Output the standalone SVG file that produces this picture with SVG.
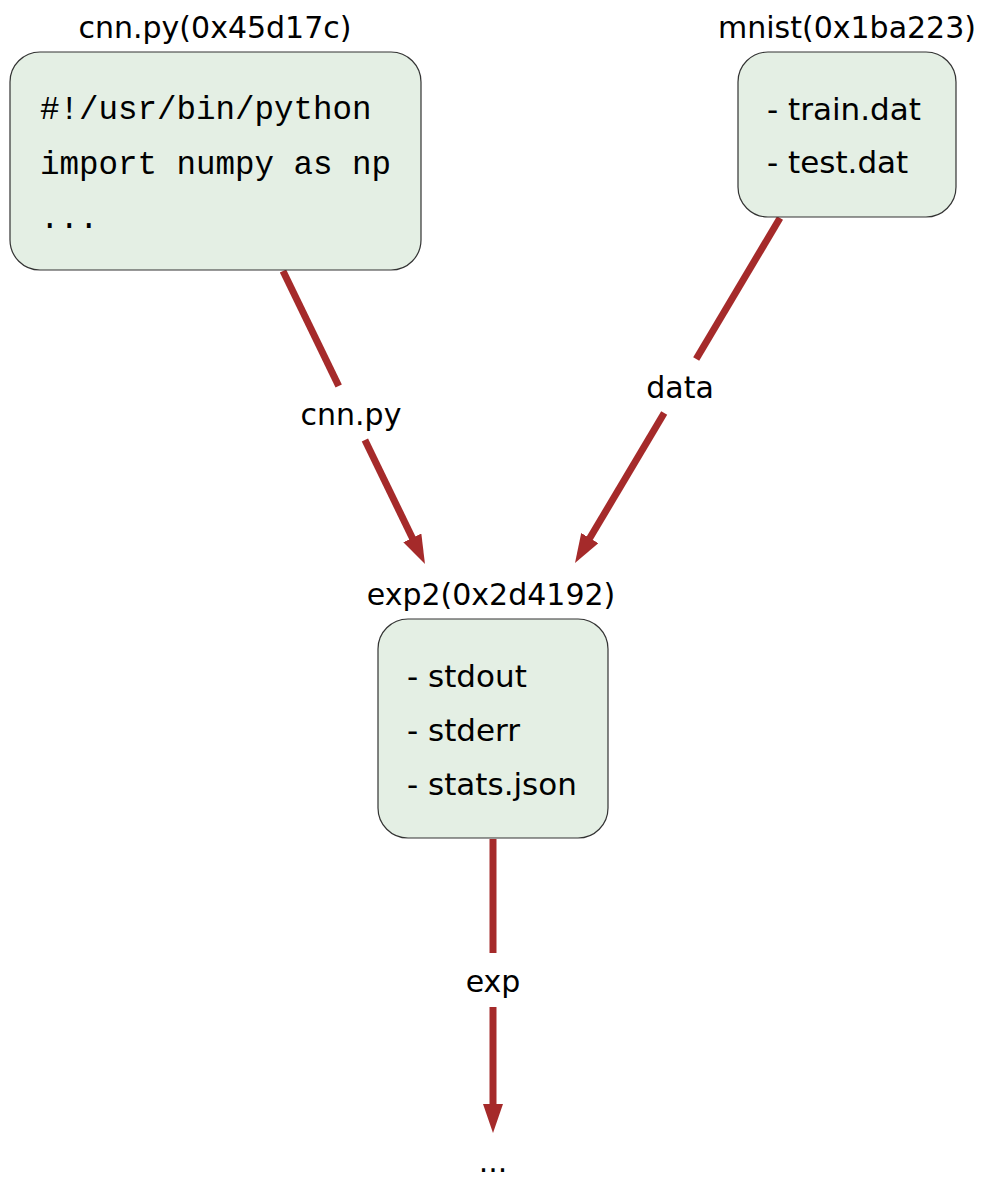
<svg xmlns="http://www.w3.org/2000/svg" width="983" height="1178" viewBox="0 0 983 1178">
<style>
.box{fill:#e4efe4;stroke:#333333;stroke-width:1.2}
.t{font-family:"DejaVu Sans","Liberation Sans",sans-serif;font-size:30px;fill:#000}
.it{font-size:31px}
.mid{text-anchor:middle}
.code{font-family:"Liberation Mono","DejaVu Sans Mono",monospace;font-size:32.5px;fill:#000}
.edge{stroke:#a52a2a;stroke-width:7;fill:none}
</style>
<defs>
<marker id="ah" markerUnits="userSpaceOnUse" viewBox="0 0 29 20" refX="2" refY="10" markerWidth="29" markerHeight="20" orient="auto">
<path d="M0,0 L29,10 L0,20 z" fill="#a52a2a"/>
</marker>
</defs>
<rect width="983" height="1178" fill="#ffffff"/>
<g id="connectors">
<g id="e-cnn">
<line class="edge" x1="283" y1="271" x2="338.7" y2="386"/>
<line class="edge" x1="364.9" y1="440" x2="413.2" y2="539.7" marker-end="url(#ah)"/>
<text class="t mid" x="351" y="425">cnn.py</text>
</g>
<g id="e-data">
<line class="edge" x1="780" y1="218" x2="696.2" y2="359"/>
<line class="edge" x1="664.2" y1="413" x2="588.8" y2="539.8" marker-end="url(#ah)"/>
<text class="t mid" x="680" y="398">data</text>
</g>
<g id="e-exp">
<line class="edge" x1="493" y1="839" x2="493" y2="953"/>
<line class="edge" x1="493" y1="1007" x2="493" y2="1106" marker-end="url(#ah)"/>
<text class="t mid" x="493" y="992">exp</text>
</g>
</g>
<g id="cnn">
<text class="t mid" x="215" y="38">cnn.py(0x45d17c)</text>
<rect class="box" x="10" y="52" width="411" height="218" rx="30" ry="30"/>
<text class="code" x="40" y="119">#!/usr/bin/python</text>
<text class="code" x="40" y="174">import numpy as np</text>
<text class="code" x="40" y="228">...</text>
</g>
<g id="mnist">
<text class="t mid" x="847" y="38">mnist(0x1ba223)</text>
<rect class="box" x="738" y="52" width="218" height="165" rx="30" ry="30"/>
<text class="t it" x="767" y="120">- train.dat</text>
<text class="t it" x="767" y="173">- test.dat</text>
</g>
<g id="exp2">
<text class="t mid" x="491" y="605">exp2(0x2d4192)</text>
<rect class="box" x="378" y="619" width="230" height="219" rx="30" ry="30"/>
<text class="t it" x="407" y="687">- stdout</text>
<text class="t it" x="407" y="741">- stderr</text>
<text class="t it" x="407" y="795">- stats.json</text>
</g>
<g id="next">
<text class="t mid" x="493" y="1172">...</text>
</g>
</svg>
